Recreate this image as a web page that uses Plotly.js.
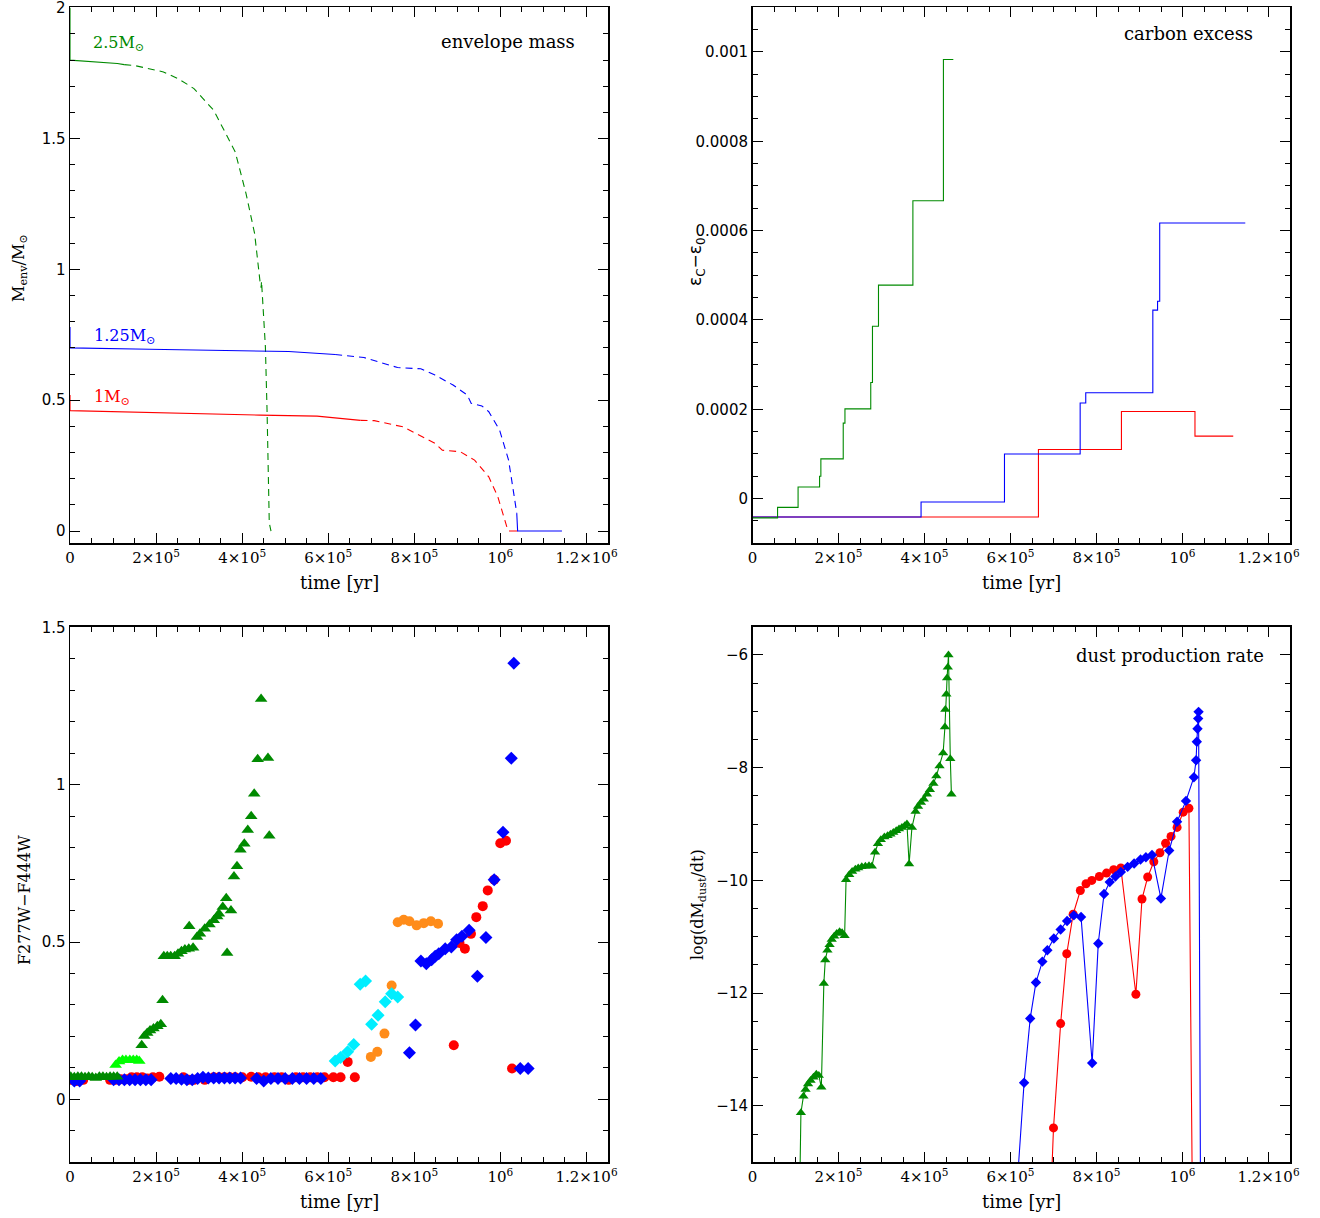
<!DOCTYPE html>
<html>
<head>
<meta charset="utf-8">
<script src="https://cdn.plot.ly/plotly-3.0.1.min.js"></script>
<style>
html,body{margin:0;padding:0;background:#fff;}
#chart{width:1320px;height:1218px;}
</style>
</head>
<body>
<div id="chart"></div>
<script>
// ---------------- DATA ----------------
// x tick labels (shared)
const xTickVals = [0, 2e5, 4e5, 6e5, 8e5, 1e6, 1.2e6];
const xTickText = ['0', '2×10<sup>5</sup>', '4×10<sup>5</sup>', '6×10<sup>5</sup>', '8×10<sup>5</sup>', '10<sup>6</sup>', '1.2×10<sup>6</sup>'];

// Panel 1: envelope mass
const envGreenSolidT = [0, 0, 1.10e5, 1.26e5];
const envGreenSolidM = [2.0, 1.80, 1.787, 1.783];
const envGreenDashT = [1.26e5, 1.51e5, 2.17e5, 2.51e5, 2.76e5, 2.88e5, 3.34e5, 3.67e5, 3.84e5, 4.09e5, 4.29e5, 4.42e5, 4.44e5, 4.45e5, 4.54e5, 4.58e5, 4.60e5, 4.63e5, 4.67e5];
const envGreenDashM = [1.783, 1.779, 1.755, 1.729, 1.704, 1.691, 1.608, 1.50, 1.449, 1.290, 1.137, 0.946, 0.93, 0.955, 0.704, 0.45, 0.195, 0.03, 0.0];

const envBlueSolidT = [0, 0, 1.84e5, 4.54e5, 5.08e5, 6.16e5];
const envBlueSolidM = [0.78, 0.70, 0.695, 0.689, 0.686, 0.675];
const envBlueDashT = [6.16e5, 6.83e5, 7.61e5, 8.15e5, 8.48e5, 8.90e5, 9.23e5, 9.32e5, 9.57e5, 9.73e5, 9.98e5, 1.019e6, 1.031e6, 1.038e6];
const envBlueDashM = [0.675, 0.663, 0.625, 0.620, 0.596, 0.558, 0.520, 0.488, 0.478, 0.456, 0.386, 0.271, 0.144, 0.068];
const envBlueEndT = [1.038e6, 1.040e6, 1.143e6];
const envBlueEndM = [0.068, 0.0, 0.0];

const envRedSolidT = [0, 0, 4.42e5, 5.74e5, 6.75e5];
const envRedSolidM = [0.52, 0.46, 0.443, 0.439, 0.423];
const envRedDashT = [6.75e5, 7.07e5, 7.74e5, 8.48e5, 8.65e5, 9.07e5, 9.40e5, 9.73e5, 9.94e5, 1.010e6, 1.016e6, 1.020e6];
const envRedDashM = [0.423, 0.422, 0.398, 0.335, 0.309, 0.303, 0.271, 0.207, 0.131, 0.042, 0.01, 0.0];
const envRedEndT = [1.020e6, 1.040e6];
const envRedEndM = [0.0, 0.0];

// Panel 2: carbon excess (step functions)
const cGreenT = [0, 5.83e4, 1.06e5, 1.56e5, 1.59e5, 2.11e5, 2.15e5, 2.75e5, 2.79e5, 2.93e5, 3.73e5, 4.44e5, 4.67e5];
const cGreenV = [-4.3e-5, -1.95e-5, 2.6e-5, 5.0e-5, 8.9e-5, 1.69e-4, 2.01e-4, 2.60e-4, 3.86e-4, 4.78e-4, 6.67e-4, 9.83e-4, 9.83e-4];
const cBlueT = [0, 3.92e5, 5.86e5, 7.62e5, 7.75e5, 9.31e5, 9.42e5, 9.47e5, 1.146e6];
const cBlueV = [-4.1e-5, -7.4e-6, 1.0e-4, 2.14e-4, 2.37e-4, 4.22e-4, 4.42e-4, 6.17e-4, 6.17e-4];
const cRedT = [0, 6.65e5, 8.58e5, 1.029e6, 1.118e6];
const cRedV = [-4.1e-5, 1.10e-4, 1.95e-4, 1.40e-4, 1.40e-4];

// Panel 3: F277W-F444W colour
const colRedT = [1.7e3, 1.42e4, 3.08e4, 9.31e4, 1.055e5, 1.18e5, 1.304e5, 1.429e5, 1.553e5, 1.678e5, 1.802e5, 1.927e5, 2.076e5, 2.633e5, 2.757e5, 2.882e5, 3.131e5, 3.339e5, 3.463e5, 3.588e5, 3.712e5, 3.837e5, 4.003e5, 4.21e5, 4.376e5, 4.543e5, 4.75e5, 4.916e5, 5.082e5, 5.248e5, 5.414e5, 5.58e5, 5.746e5, 5.912e5, 6.12e5, 6.286e5, 6.452e5, 6.618e5, 8.917e5, 9.05e5, 9.175e5, 9.316e5, 9.44e5, 9.59e5, 9.706e5, 9.856e5, 9.997e5, 1.013e6, 1.027e6];
const colRedV = [0.062, 0.058, 0.062, 0.062, 0.062, 0.064, 0.064, 0.070, 0.070, 0.070, 0.066, 0.070, 0.072, 0.070, 0.062, 0.062, 0.062, 0.070, 0.070, 0.070, 0.070, 0.070, 0.070, 0.072, 0.070, 0.070, 0.070, 0.070, 0.062, 0.070, 0.070, 0.070, 0.070, 0.070, 0.070, 0.070, 0.119, 0.070, 0.172, 0.497, 0.479, 0.526, 0.579, 0.614, 0.664, 0.698, 0.814, 0.822, 0.098];
const colOrangeT = [6.99e5, 7.14e5, 7.306e5, 7.473e5, 7.614e5, 7.754e5, 7.887e5, 8.053e5, 8.219e5, 8.385e5, 8.551e5];
const colOrangeV = [0.135, 0.151, 0.209, 0.362, 0.563, 0.571, 0.566, 0.553, 0.560, 0.566, 0.558];
const colCyanT = [6.161e5, 6.286e5, 6.45e5, 6.593e5, 6.742e5, 6.867e5, 7.008e5, 7.158e5, 7.324e5, 7.473e5, 7.614e5];
const colCyanV = [0.122, 0.133, 0.151, 0.174, 0.366, 0.376, 0.239, 0.267, 0.310, 0.336, 0.325];
const colBlueT = [1.0e4, 2.25e4, 1.014e5, 1.138e5, 1.263e5, 1.387e5, 1.512e5, 1.636e5, 1.761e5, 1.885e5, 2.342e5, 2.466e5, 2.591e5, 2.716e5, 2.84e5, 2.965e5, 3.089e5, 3.214e5, 3.339e5, 3.463e5, 3.588e5, 3.712e5, 3.837e5, 3.961e5, 4.335e5, 4.5e5, 4.667e5, 4.833e5, 4.999e5, 5.165e5, 5.331e5, 5.497e5, 5.663e5, 5.829e5, 7.887e5, 8.028e5, 8.153e5, 8.278e5, 8.402e5, 8.485e5, 8.568e5, 8.718e5, 8.859e5, 8.983e5, 9.108e5, 9.274e5, 9.465e5, 9.664e5, 9.856e5, 1.006e6, 1.0253e6, 1.0312e6, 1.0462e6, 1.0644e6];
const colBlueV = [0.058, 0.058, 0.062, 0.062, 0.062, 0.062, 0.062, 0.062, 0.062, 0.062, 0.066, 0.066, 0.064, 0.062, 0.062, 0.066, 0.070, 0.068, 0.068, 0.068, 0.068, 0.068, 0.068, 0.068, 0.066, 0.058, 0.066, 0.066, 0.066, 0.066, 0.066, 0.066, 0.066, 0.066, 0.148, 0.236, 0.440, 0.431, 0.444, 0.455, 0.463, 0.479, 0.484, 0.507, 0.518, 0.537, 0.391, 0.514, 0.698, 0.849, 1.084, 1.386, 0.098, 0.098];
const colLimeT = [1.06e5, 1.14e5, 1.22e5, 1.30e5, 1.39e5, 1.47e5, 1.55e5, 1.61e5];
const colLimeV = [0.109, 0.120, 0.125, 0.125, 0.125, 0.125, 0.125, 0.122];
const colGreenT = [1.7e3, 1.0e4, 1.83e4, 2.66e4, 3.49e4, 4.33e4, 5.16e4, 5.99e4, 6.82e4, 7.65e4, 8.48e4, 9.31e4, 1.014e5, 1.097e5, 1.666e5, 1.727e5, 1.794e5, 1.86e5, 1.94e5, 2.03e5, 2.11e5, 2.15e5, 2.18e5, 2.26e5, 2.34e5, 2.43e5, 2.51e5, 2.59e5, 2.67e5, 2.76e5, 2.77e5, 2.86e5, 2.95e5, 3.02e5, 3.13e5, 3.24e5, 3.34e5, 3.42e5, 3.46e5, 3.55e5, 3.63e5, 3.65e5, 3.74e5, 3.81e5, 3.88e5, 3.96e5, 4.05e5, 4.13e5, 4.21e5, 4.28e5, 4.36e5, 4.44e5, 4.60e5, 4.63e5];
const colGreenV = [0.072, 0.070, 0.072, 0.072, 0.070, 0.072, 0.070, 0.068, 0.072, 0.072, 0.070, 0.072, 0.072, 0.072, 0.172, 0.201, 0.211, 0.219, 0.225, 0.232, 0.239, 0.315, 0.455, 0.455, 0.455, 0.455, 0.463, 0.471, 0.476, 0.479, 0.550, 0.482, 0.516, 0.526, 0.542, 0.556, 0.569, 0.581, 0.590, 0.611, 0.639, 0.465, 0.600, 0.708, 0.741, 0.793, 0.812, 0.856, 0.900, 0.971, 1.081, 1.272, 1.085, 0.838];

// Panel 4: dust production rate (log)
const dGreenT = [1.01e5, 1.126e5, 1.184e5, 1.234e5, 1.292e5, 1.351e5, 1.418e5, 1.484e5, 1.542e5, 1.601e5, 1.659e5, 1.692e5, 1.742e5, 1.792e5, 1.842e5, 1.901e5, 1.959e5, 2.026e5, 2.084e5, 2.142e5, 2.176e5, 2.25e5, 2.317e5, 2.392e5, 2.459e5, 2.542e5, 2.625e5, 2.709e5, 2.775e5, 2.85e5, 2.917e5, 2.984e5, 3.067e5, 3.142e5, 3.208e5, 3.275e5, 3.342e5, 3.408e5, 3.475e5, 3.542e5, 3.592e5, 3.642e5, 3.708e5, 3.792e5, 3.85e5, 3.917e5, 3.984e5, 4.059e5, 4.126e5, 4.208e5, 4.275e5, 4.35e5, 4.433e5, 4.475e5, 4.484e5, 4.509e5, 4.525e5, 4.542e5, 4.558e5, 4.60e5, 4.626e5];
const dGreenV = [-20, -14.12, -13.83, -13.71, -13.61, -13.55, -13.49, -13.44, -13.46, -13.67, -11.83, -11.41, -11.24, -11.14, -11.05, -10.99, -10.94, -10.91, -10.93, -10.98, -9.99, -9.90, -9.84, -9.80, -9.78, -9.76, -9.75, -9.74, -9.75, -9.50, -9.35, -9.28, -9.23, -9.21, -9.18, -9.15, -9.12, -9.09, -9.06, -9.03, -9.00, -9.71, -9.06, -8.78, -8.69, -8.62, -8.56, -8.47, -8.39, -8.28, -8.15, -7.97, -7.74, -7.28, -6.97, -6.70, -6.41, -6.22, -6.00, -7.84, -8.47];
const dRedT = [6.72e5, 7.0e5, 7.166e5, 7.308e5, 7.457e5, 7.624e5, 7.757e5, 7.891e5, 8.066e5, 8.233e5, 8.399e5, 8.566e5, 8.916e5, 9.058e5, 9.191e5, 9.333e5, 9.475e5, 9.607e5, 9.733e5, 9.874e5, 1.0016e6, 1.0149e6, 1.028e6];
const dRedV = [-20, -14.39, -12.54, -11.30, -10.60, -10.18, -10.06, -10.00, -9.93, -9.87, -9.81, -9.78, -12.02, -10.33, -9.94, -9.67, -9.51, -9.34, -9.22, -9.06, -8.79, -8.72, -20];
const dBlueT = [5.745e5, 6.316e5, 6.458e5, 6.592e5, 6.741e5, 6.857e5, 7.008e5, 7.166e5, 7.316e5, 7.473e5, 7.641e5, 7.899e5, 8.041e5, 8.175e5, 8.308e5, 8.44e5, 8.566e5, 8.724e5, 8.875e5, 9.024e5, 9.149e5, 9.291e5, 9.498e5, 9.69e5, 9.874e5, 1.0081e6, 1.0265e6, 1.0316e6, 1.0333e6, 1.0349e6, 1.0365e6, 1.0374e6, 1.0442e6];
const dBlueV = [-20, -13.59, -12.45, -11.81, -11.44, -11.24, -11.03, -10.87, -10.72, -10.62, -10.65, -13.24, -11.12, -10.24, -10.03, -9.93, -9.85, -9.76, -9.70, -9.63, -9.59, -9.55, -10.32, -9.47, -8.96, -8.59, -8.17, -7.87, -7.54, -7.31, -7.13, -7.01, -20];

// ---------------- STYLE ----------------
const GREEN = '#008a00', RED = '#ff0000', BLUE = '#0000ff', LIME = '#00ff00', CYAN = '#00eeff', ORANGE = '#ff8c1a';
const W = 1320, H = 1218;
const px = v => v / W;
const py = v => 1 - v / H;

function line(x, y, color, xa, ya, dash) {
  return {x, y, type: 'scatter', mode: 'lines', xaxis: xa, yaxis: ya,
    line: {color, width: 1.1, dash: dash || 'solid'}, hoverinfo: 'skip', showlegend: false};
}
function steps(x, y, color, xa, ya) {
  return {x, y, type: 'scatter', mode: 'lines', xaxis: xa, yaxis: ya,
    line: {color, width: 1.1, shape: 'hv'}, hoverinfo: 'skip', showlegend: false};
}
function pts(x, y, color, symbol, size, xa, ya) {
  return {x, y, type: 'scatter', mode: 'markers', xaxis: xa, yaxis: ya, cliponaxis: true,
    marker: {color, symbol, size, line: {width: 0}}, hoverinfo: 'skip', showlegend: false};
}
function lp(x, y, color, symbol, size, xa, ya) {
  return {x, y, type: 'scatter', mode: 'lines+markers', xaxis: xa, yaxis: ya, cliponaxis: true,
    line: {color, width: 1.1}, marker: {color, symbol, size, line: {width: 0}}, hoverinfo: 'skip', showlegend: false};
}

const DASH = '7px,5px';
const traces = [
  // panel 1
  line(envGreenSolidT, envGreenSolidM, GREEN, 'x', 'y'),
  line(envGreenDashT, envGreenDashM, GREEN, 'x', 'y', DASH),
  line(envRedSolidT, envRedSolidM, RED, 'x', 'y'),
  line(envRedDashT, envRedDashM, RED, 'x', 'y', DASH),
  line(envRedEndT, envRedEndM, RED, 'x', 'y'),
  line(envBlueSolidT, envBlueSolidM, BLUE, 'x', 'y'),
  line(envBlueDashT, envBlueDashM, BLUE, 'x', 'y', DASH),
  line(envBlueEndT, envBlueEndM, BLUE, 'x', 'y'),
  // panel 2
  steps(cRedT, cRedV, RED, 'x2', 'y2'),
  steps(cBlueT, cBlueV, BLUE, 'x2', 'y2'),
  steps(cGreenT, cGreenV, GREEN, 'x2', 'y2'),
  // panel 3
  pts(colRedT, colRedV, RED, 'circle', 10, 'x3', 'y3'),
  pts(colOrangeT, colOrangeV, ORANGE, 'circle', 10, 'x3', 'y3'),
  pts(colCyanT, colCyanV, CYAN, 'diamond', 10, 'x3', 'y3'),
  pts(colBlueT, colBlueV, BLUE, 'diamond', 10, 'x3', 'y3'),
  pts(colLimeT, colLimeV, LIME, 'triangle-up', 11, 'x3', 'y3'),
  pts(colGreenT, colGreenV, GREEN, 'triangle-up', 11, 'x3', 'y3'),
  // panel 4
  lp(dRedT, dRedV, RED, 'circle', 9, 'x4', 'y4'),
  lp(dBlueT, dBlueV, BLUE, 'diamond', 8, 'x4', 'y4'),
  lp(dGreenT, dGreenV, GREEN, 'triangle-up', 9, 'x4', 'y4')
];

const xDomL = [px(70), px(608)];
const xDomR = [px(752.5), px(1290)];
const yDomT = [py(543.3), py(7.3)];
const yDomB = [py(1162.3), py(626.7)];

function xax(domain, anchor) {
  return {domain, anchor, range: [0, 1.25e6], tickmode: 'array', tickvals: xTickVals, ticktext: xTickText,
    ticks: 'inside', ticklen: 10, tickwidth: 1, tickcolor: '#000',
    showline: true, linecolor: '#000', linewidth: 1.5, mirror: 'ticks',
    showgrid: false, zeroline: false, fixedrange: true, ticklabeloverflow: 'allow',
    minor: {tickmode: 'linear', tick0: 0, dtick: 5e4, ticks: 'inside', ticklen: 5, tickwidth: 1, tickcolor: '#000', showgrid: false},
    tickfont: {family: 'DejaVu Serif', size: 15, color: '#000'}};
}
function yax(domain, anchor, range, vals, text, minorStep) {
  return {domain, anchor, range, tickmode: 'array', tickvals: vals, ticktext: text,
    ticks: 'inside', ticklen: 10, tickwidth: 1, tickcolor: '#000',
    showline: true, linecolor: '#000', linewidth: 1.5, mirror: 'ticks',
    showgrid: false, zeroline: false, fixedrange: true, ticklabeloverflow: 'allow',
    minor: {tickmode: 'linear', tick0: 0, dtick: minorStep, ticks: 'inside', ticklen: 5, tickwidth: 1, tickcolor: '#000', showgrid: false},
    tickfont: {family: 'DejaVu Sans', size: 15, color: '#000'}};
}

const TF = {family: 'DejaVu Serif', size: 18, color: '#000'};
function ann(text, x, y, xanchor, font, angle) {
  return {text, x: px(x), y: py(y), xref: 'paper', yref: 'paper', xanchor, yanchor: 'middle',
    showarrow: false, font: font || TF, textangle: angle || 0};
}

const layout = {
  width: W, height: H,
  margin: {l: 0, r: 0, t: 0, b: 0},
  paper_bgcolor: '#fff', plot_bgcolor: '#fff',
  showlegend: false,
  xaxis: xax(xDomL, 'y'),
  yaxis: yax(yDomT, 'x', [-0.047, 2.002], [0, 0.5, 1, 1.5, 2], ['0', '0.5', '1', '1.5', '2'], 0.1),
  xaxis2: xax(xDomR, 'y2'),
  yaxis2: yax(yDomT, 'x2', [-0.0001, 0.0011], [0, 0.0002, 0.0004, 0.0006, 0.0008, 0.001], ['0', '0.0002', '0.0004', '0.0006', '0.0008', '0.001'], 0.00005),
  xaxis3: xax(xDomL, 'y3'),
  yaxis3: yax(yDomB, 'x3', [-0.2, 1.502], [0, 0.5, 1, 1.5], ['0', '0.5', '1', '1.5'], 0.1),
  xaxis4: xax(xDomR, 'y4'),
  yaxis4: yax(yDomB, 'x4', [-15, -5.5], [-14, -12, -10, -8, -6], ['−14', '−12', '−10', '−8', '−6'], 0.5),
  annotations: [
    ann('envelope mass', 577, 42, 'right'),
    ann('2.5M<sub>⊙</sub>', 91, 44, 'left', {family: 'DejaVu Serif', size: 16, color: GREEN}),
    ann('1.25M<sub>⊙</sub>', 92, 336, 'left', {family: 'DejaVu Serif', size: 16, color: BLUE}),
    ann('1M<sub>⊙</sub>', 92, 397, 'left', {family: 'DejaVu Serif', size: 16, color: RED}),
    ann('carbon excess', 1255, 33, 'right'),
    ann('dust production rate', 1266, 655, 'right'),
    ann('time [yr]', 339, 582, 'center'),
    ann('time [yr]', 1021, 582, 'center'),
    ann('time [yr]', 339, 1201, 'center'),
    ann('time [yr]', 1021, 1201, 'center'),
    ann('M<sub>env</sub>/M<sub>⊙</sub>', 20, 268, 'center', {family: 'DejaVu Serif', size: 16, color: '#000'}, -90),
    ann('ε<sub>C</sub>−ε<sub>0</sub>', 697, 262, 'center', {family: 'DejaVu Sans', size: 17, color: '#000'}, -90),
    ann('F277W−F444W', 24, 900, 'center', {family: 'DejaVu Serif', size: 16, color: '#000'}, -90),
    ann('log(dM<sub>dust</sub>/dt)', 698, 905, 'center', {family: 'DejaVu Serif', size: 16, color: '#000'}, -90)
  ]
};

Plotly.newPlot('chart', traces, layout, {staticPlot: true, displayModeBar: false});
</script>
</body>
</html>
